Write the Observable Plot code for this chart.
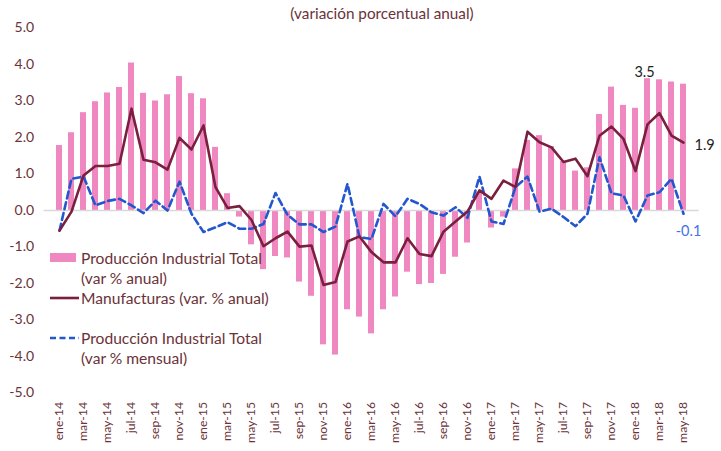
<!DOCTYPE html>
<html><head><meta charset="utf-8">
<script src="https://cdn.jsdelivr.net/npm/d3@7"></script>
<script src="https://cdn.jsdelivr.net/npm/@observablehq/plot@0.6"></script>
<style>
body{margin:0;background:#fff;}
#wrap{position:relative;width:721px;height:451px;font-family:Lato,"Open Sans",sans-serif;color:#6b3238;}
#title{position:absolute;left:0;width:764px;top:4px;text-align:center;font-size:15.3px;}
#legend{position:absolute;left:50px;top:248px;font-size:15.6px;line-height:20px;}
#legend .row{position:relative;height:20px;white-space:nowrap;}
#legend .txt{position:absolute;left:31px;top:0;}
#legend svg{position:absolute;left:0;top:0;}
</style></head><body>
<div id="wrap"></div>
<script>
const months = ["ene-14","feb-14","mar-14","abr-14","may-14","jun-14","jul-14","ago-14","sep-14","oct-14","nov-14","dic-14",
"ene-15","feb-15","mar-15","abr-15","may-15","jun-15","jul-15","ago-15","sep-15","oct-15","nov-15","dic-15",
"ene-16","feb-16","mar-16","abr-16","may-16","jun-16","jul-16","ago-16","sep-16","oct-16","nov-16","dic-16",
"ene-17","feb-17","mar-17","abr-17","may-17","jun-17","jul-17","ago-17","sep-17","oct-17","nov-17","dic-17",
"ene-18","feb-18","mar-18","abr-18","may-18"];
const anual = [1.78,2.13,2.68,2.98,3.22,3.37,4.04,3.21,3.0,3.17,3.67,3.2,
3.06,1.73,0.46,-0.18,-0.94,-1.62,-1.26,-1.3,-1.96,-2.35,-3.68,-3.96,
-2.72,-2.92,-3.38,-2.72,-2.37,-1.69,-2.03,-2.0,-1.75,-1.28,-0.89,0.5,
-0.48,-0.18,1.14,1.92,2.05,1.75,1.34,1.08,1.17,2.63,3.38,2.88,
2.8,3.61,3.58,3.52,3.46];
const manuf = [-0.55,-0.03,0.96,1.22,1.22,1.28,2.79,1.39,1.32,1.12,1.99,1.67,
2.33,0.64,0.07,0.12,-0.26,-0.98,-0.76,-0.58,-0.99,-0.96,-2.04,-1.96,
-0.85,-0.71,-1.14,-1.42,-1.42,-0.76,-1.19,-1.25,-0.58,-0.3,-0.03,0.55,
0.32,0.82,0.64,2.16,1.87,1.73,1.33,1.42,0.94,2.05,2.3,1.96,
1.08,2.36,2.67,2.05,1.86];
const mensual = [-0.55,0.87,0.93,0.14,0.26,0.32,0.14,-0.07,0.27,0.0,0.79,-0.09,
-0.59,-0.46,-0.32,-0.5,-0.5,-0.37,0.48,-0.12,-0.38,-0.38,-0.59,-0.44,
0.73,-0.73,-0.78,0.18,-0.16,0.32,0.18,-0.05,-0.14,0.09,-0.2,0.93,
-0.3,-0.37,0.64,0.93,-0.03,0.05,-0.18,-0.43,-0.09,1.46,0.47,0.41,
-0.3,0.41,0.5,0.87,-0.09];
const yTicks = [-5,-4,-3,-2,-1,0,1,2,3,4,5];
const xTicks = months.filter((d,i)=>i%2===0);

const data = months.map((m,i)=>({m, anual:anual[i], manuf:manuf[i], mensual:mensual[i]}));
const last = data[data.length-1];
const fmt = v => v.toFixed(1);

const plot = Plot.plot({
  width:721, height:451,
  marginLeft:43.6, marginRight:22.3, marginTop:27.5, marginBottom:58.5,
  style:{fontFamily:"Lato, 'Open Sans', sans-serif", fontSize:"12px", color:"#6b3238", background:"white"},
  x:{domain:months, padding:0.48, label:null},
  y:{domain:[-5,5], label:null},
  marks:[
    Plot.barY(data,{x:"m", y:"anual", fill:"#ef87c0"}),
    Plot.ruleY([0],{stroke:"#d9d9d9", strokeWidth:1.3}),
    Plot.lineY(data,{x:"m", y:"mensual", stroke:"#2257d0", strokeWidth:2.6, strokeDasharray:"7,4"}),
    Plot.lineY(data,{x:"m", y:"manuf", stroke:"#7a1f3d", strokeWidth:2.6}),
    Plot.axisY({ticks:yTicks, tickFormat:d=>d.toFixed(1), tickSize:0, tickPadding:10, label:null, fontSize:14}),
    Plot.axisX({ticks:xTicks, tickRotate:-90, tickSize:0, tickPadding:9, label:null, fontSize:12.2}),
    Plot.text([last],{x:"m", y:"anual", text:d=>fmt(d.anual), dx:-39, dy:-12, fill:"#222", fontSize:14.5}),
    Plot.text([last],{x:"m", y:"manuf", text:d=>fmt(d.manuf), dx:11, dy:3, textAnchor:"start", fill:"#222", fontSize:14.5}),
    Plot.text([last],{x:"m", y:"mensual", text:d=>fmt(d.mensual), dx:5, dy:18, fill:"#4472e6", fontSize:14.5})
  ]
});

const wrap = document.getElementById("wrap");
wrap.appendChild(plot);
const t = document.createElement("div");
t.id = "title"; t.textContent = "(variación porcentual anual)";
wrap.appendChild(t);

const legendItems = [
  {sym:'<rect x="0" y="5" width="26" height="9" fill="#ef87c0"/>', lines:["Producción Industrial Total","(var % anual)"]},
  {sym:'<line x1="0" x2="29" y1="10" y2="10" stroke="#7a1f3d" stroke-width="2.6"/>', lines:["Manufacturas (var. % anual)"]},
  {sym:null, lines:[""]},
  {sym:'<line x1="0" x2="29" y1="10" y2="10" stroke="#2257d0" stroke-width="2.6" stroke-dasharray="6,3.5"/>', lines:["Producción Industrial Total","(var % mensual)"]}
];
const lg = document.createElement("div");
lg.id = "legend";
for (const it of legendItems) {
  it.lines.forEach((ln,j)=>{
    const row = document.createElement("div");
    row.className = "row";
    if (j===0 && it.sym) row.innerHTML = `<svg width="31" height="20">${it.sym}</svg>`;
    const s = document.createElement("span");
    s.className = "txt"; s.textContent = ln;
    row.appendChild(s);
    lg.appendChild(row);
  });
}
wrap.appendChild(lg);
</script>
</body></html>
